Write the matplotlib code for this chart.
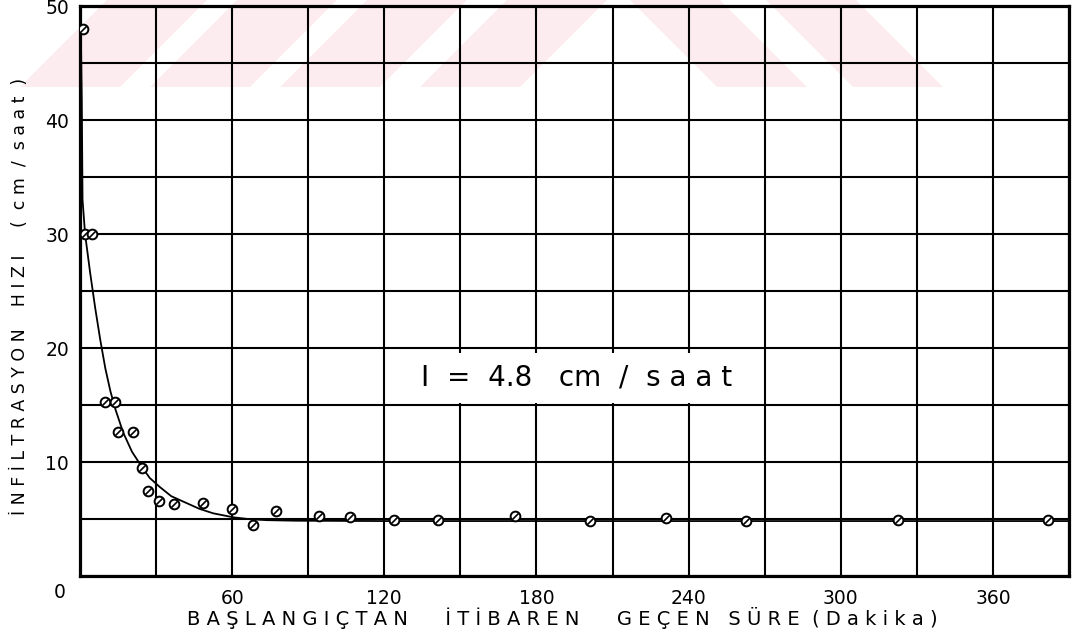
import numpy as np
import matplotlib.pyplot as plt
from matplotlib.patches import Polygon
from matplotlib.path import Path

# measured infiltration rates (cm/saat) against elapsed time (dakika)
time_min = [1.2, 2.0, 4.6, 9.9, 13.8, 15.1, 21.0, 24.3, 26.9, 31.0, 36.9,
            48.6, 60.0, 68.3, 77.1, 94.3, 106.6, 123.8, 141.2, 171.4,
            201.2, 231.2, 262.7, 322.7, 381.8]
rate = [48.0, 30.0, 30.0, 15.3, 15.3, 12.6, 12.6, 9.45, 7.5, 6.6, 6.35,
        6.4, 5.85, 4.5, 5.7, 5.26, 5.2, 4.9, 4.9, 5.26,
        4.85, 5.06, 4.85, 4.9, 4.9]

# hand-fitted infiltration curve
curve_t = [0.2, 0.5, 0.7, 1.0, 2.0, 4.0, 6.0, 8.0, 10.0, 12.0, 14.0, 17.0,
           20.5, 24.3, 27.5, 31.5, 36.0, 42.0, 47.0, 52.5, 60.4, 67.0,
           73.5, 85.0, 120.0, 200.0, 300.0, 390.0]
curve_i = [50.0, 45.0, 41.8, 33.0, 30.0, 26.6, 23.5, 20.7, 18.2, 16.2,
           14.6, 12.6, 10.9, 9.6, 8.6, 7.8, 7.0, 6.4, 5.9, 5.5, 5.15,
           4.98, 4.9, 4.85, 4.82, 4.82, 4.82, 4.82]

x_grid = list(range(0, 391, 30))
x_labels = ['' if (t == 0 or t % 60) else str(t) for t in x_grid]
y_grid = list(range(0, 51, 5))
y_labels = ['' if (v == 0 or v % 10) else str(v) for v in y_grid]

W, H = 1076, 637
fig = plt.figure(figsize=(W / 100, H / 100), dpi=100)
ax = fig.add_axes([80 / W, 1 - 576 / H, 989 / W, 570 / H])
ax.patch.set_visible(False)

# faint pink stripes across the top of the sheet
pink = '#fdecef'
band = 87
for xb in [20, 150, 280, 420]:
    pts = [(xb, band), (xb + 100, band), (xb + 100 + band, 0), (xb + band, 0)]
    fig.add_artist(Polygon([(x / W, 1 - y / H) for x, y in pts], closed=True,
                           transform=fig.transFigure, facecolor=pink,
                           edgecolor='none', zorder=-5))
for xt in [630, 766]:
    pts = [(xt, 0), (xt + 90, 0), (xt + 90 + band, band), (xt + band, band)]
    fig.add_artist(Polygon([(x / W, 1 - y / H) for x, y in pts], closed=True,
                           transform=fig.transFigure, facecolor=pink,
                           edgecolor='none', zorder=-5))

ax.set_xlim(0, 390)
ax.set_ylim(0, 50)
ax.set_xticks(x_grid)
ax.set_xticklabels(x_labels)
ax.set_yticks(y_grid)
ax.set_yticklabels(y_labels)
ax.tick_params(length=0, labelsize=13.5, colors='black')
ax.tick_params(axis='x', pad=9)
ax.tick_params(axis='y', pad=8)
ax.grid(True, color='black', linewidth=1.5)
ax.set_axisbelow(True)
for s in ax.spines.values():
    s.set_linewidth(2.3)

ax.plot(curve_t, curve_i, color='black', linewidth=1.3, zorder=3)
ax.plot(time_min, rate, linestyle='none', marker='o', markersize=7,
        markerfacecolor='white', markeredgecolor='black',
        markeredgewidth=1.4, zorder=4)
slash = Path([(-0.5, -0.5), (0.5, 0.5)], [Path.MOVETO, Path.LINETO])
ax.plot(time_min, rate, linestyle='none', marker=slash, markersize=4.5,
        markeredgecolor='black', markeredgewidth=1.2, zorder=5)

ax.text(196, 17.4, 'I  =  4.8   cm  /  s a a t', fontsize=20,
        ha='center', va='center', zorder=6,
        bbox=dict(boxstyle='square,pad=0.4', facecolor='white',
                  edgecolor='none'))

fig.text(60 / W, 1 - 593 / H, '0', fontsize=13.5, ha='center', va='center')
fig.text(20 / W, 1 - 296 / H,
         'İ N F İ L T R A S Y O N    H I Z I     (  c m  /  s a a t  )',
         fontsize=12.5, rotation=90, ha='center', va='center')
fig.text(562 / W, 1 - 618 / H,
         'B A Ş L A N G I Ç T A N      İ T İ B A R E N      '
         'G E Ç E N   S Ü R E  ( D a k i k a )',
         fontsize=14, ha='center', va='center')

fig.savefig('out.png', dpi=100)
